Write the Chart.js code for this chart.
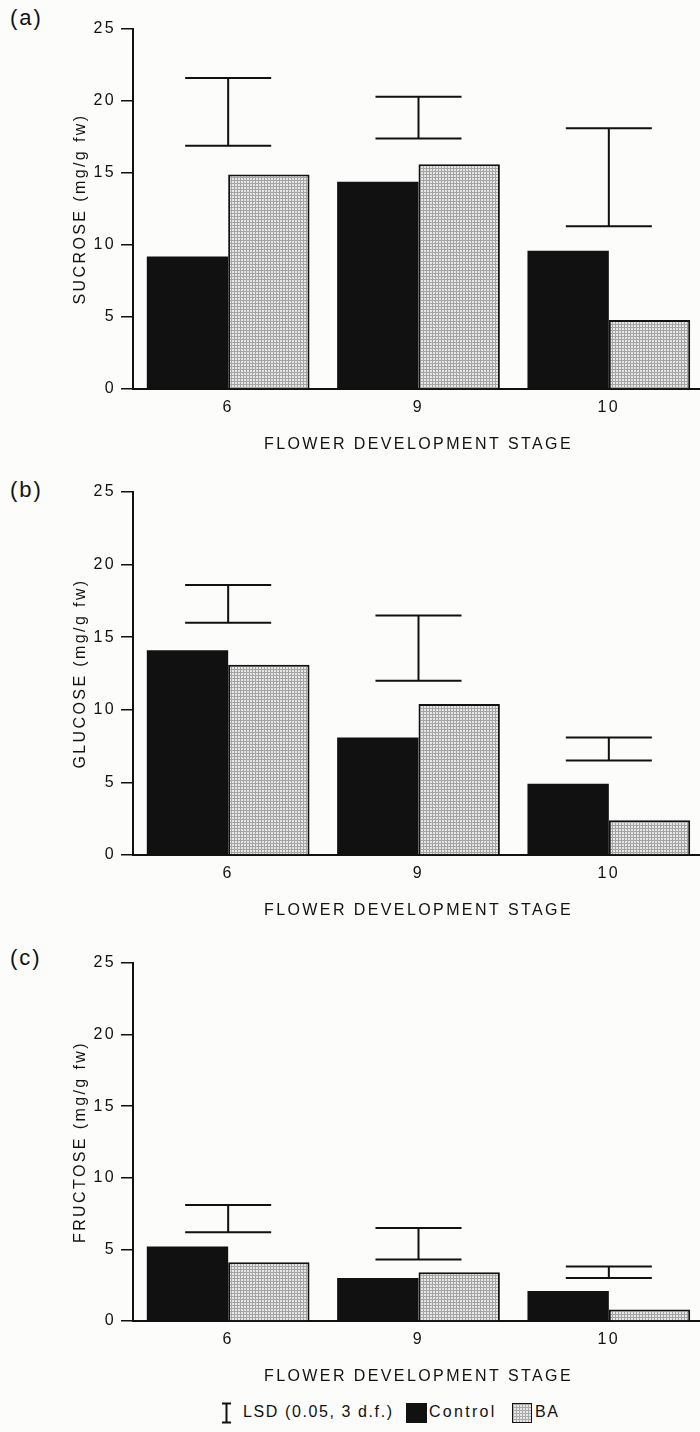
<!DOCTYPE html>
<html>
<head>
<meta charset="utf-8">
<script src="https://cdn.jsdelivr.net/npm/chart.js@4.4.1/dist/chart.umd.min.js"></script>
<style>
  html, body { margin: 0; padding: 0; background: #fcfcfb; width: 700px; height: 1432px; overflow: hidden; position: relative; }
  canvas { position: absolute; left: 0; }
  .tag { position: absolute; left: 10px; font: 22px "Liberation Sans", Arial, sans-serif; line-height: 1; color: #111; letter-spacing: 2px; }
  .lg { position: absolute; top: 1403px; height: 20px; line-height: 20px; font: 16px "Liberation Sans", Arial, sans-serif; color: #111; letter-spacing: 1.6px; white-space: nowrap; }
  .sw { position: absolute; top: 1403px; box-sizing: border-box; }
</style>
</head>
<body>
<div class="tag" style="top:7px">(a)</div>
<div class="tag" style="top:479px">(b)</div>
<div class="tag" style="top:947px">(c)</div>

<canvas id="chartA" width="704" height="465" style="top:0px"></canvas>
<canvas id="chartB" width="704" height="465" style="top:465px"></canvas>
<canvas id="chartC" width="704" height="470" style="top:930px"></canvas>

<!-- leyenda comun abajo -->
<svg style="position:absolute;left:221px;top:1402px" width="11" height="22">
  <path d="M1 1.5H10M1 20.5H10M5.5 1.5V20.5" stroke="#111" stroke-width="2" fill="none"/>
</svg>
<div class="lg" style="left:243px">LSD (0.05, 3 d.f.)</div>
<div class="sw" style="left:406px;width:21px;height:20px;background:#111"></div>
<div class="lg" style="left:429px;letter-spacing:2.3px">Control</div>
<div class="sw" style="left:512px;width:20px;height:20px;border:1.5px solid #111;background-color:#e6e6e6;background-image:linear-gradient(90deg,#aaa 1px,transparent 1px),linear-gradient(#aaa 1px,transparent 1px);background-size:3px 3px"></div>
<div class="lg" style="left:535px">BA</div>

<script>
// estadios de desarrollo de la flor (eje X)
const stages = ["6", "9", "10"];
const yTickStep = 5;
const yMax = 25;

// (a) sacarosa
const sucroseControl = [9.2, 14.4, 9.6];
const sucroseBA = [14.9, 15.6, 4.8];
const sucroseLsdLow = [16.9, 17.4, 11.3];
const sucroseLsdHigh = [21.6, 20.3, 18.1];

// (b) glucosa
const glucoseControl = [14.1, 8.1, 4.9];
const glucoseBA = [13.1, 10.4, 2.4];
const glucoseLsdLow = [16.0, 12.0, 6.5];
const glucoseLsdHigh = [18.6, 16.5, 8.1];

// (c) fructosa
const fructoseControl = [5.2, 3.0, 2.1];
const fructoseBA = [4.1, 3.4, 0.8];
const fructoseLsdLow = [6.2, 4.3, 3.0];
const fructoseLsdHigh = [8.1, 6.5, 3.8];

const ink = "#111111";
const fontFam = '"Liberation Sans", Arial, sans-serif';

// trama gris para las barras BA
function trama() {
  const c = document.createElement("canvas");
  c.width = 3; c.height = 3;
  const g = c.getContext("2d");
  g.fillStyle = "#e6e6e6";
  g.fillRect(0, 0, 3, 3);
  g.fillStyle = "#a4a4a4";
  g.fillRect(0, 0, 1, 3);
  g.fillRect(0, 0, 3, 1);
  return g.createPattern(c, "repeat");
}
const patronBA = trama();

// espaciado entre letras como en la figura original
const espaciado = {
  id: "espaciado",
  beforeInit(chart) { chart.ctx.letterSpacing = "2.4px"; },
  beforeDraw(chart) { chart.ctx.letterSpacing = "2.4px"; }
};

// barras LSD dibujadas con las escalas del grafico
const lsd = {
  id: "lsd",
  afterDatasetsDraw(chart, args, opts) {
    const { ctx, scales: { x, y } } = chart;
    const paso = x.getPixelForValue(1) - x.getPixelForValue(0);
    const medio = paso * 0.226;
    ctx.save();
    ctx.strokeStyle = ink;
    ctx.lineWidth = 2;
    opts.low.forEach((lo, i) => {
      const cx = x.getPixelForValue(i);
      const yl = y.getPixelForValue(lo);
      const yh = y.getPixelForValue(opts.high[i]);
      ctx.beginPath();
      ctx.moveTo(cx - medio, yh); ctx.lineTo(cx + medio, yh);
      ctx.moveTo(cx - medio, yl); ctx.lineTo(cx + medio, yl);
      ctx.moveTo(cx, yh); ctx.lineTo(cx, yl);
      ctx.stroke();
    });
    ctx.restore();
  }
};

function pintarPanel(id, titulo, control, ba, low, high, padTop, padBottom) {
  const ctx = document.getElementById(id).getContext("2d");
  new Chart(ctx, {
    type: "bar",
    data: {
      labels: stages,
      datasets: [
        { label: "Control", data: control, backgroundColor: "#111111", borderWidth: 0 },
        { label: "BA", data: ba, backgroundColor: patronBA, borderColor: ink, borderWidth: 2 }
      ]
    },
    options: {
      responsive: false,
      animation: false,
      events: [],
      layout: { padding: { top: padTop, bottom: padBottom, left: 0, right: 0 } },
      datasets: { bar: { categoryPercentage: 0.855, barPercentage: 1.0 } },
      plugins: {
        legend: { display: false },
        tooltip: { enabled: false },
        lsd: { low: low, high: high }
      },
      scales: {
        x: {
          grid: { display: true, drawOnChartArea: false, drawTicks: false },
          border: { display: true, color: ink, width: 2 },
          ticks: { color: ink, padding: 9, font: { family: fontFam, size: 16 } },
          title: {
            display: true,
            text: "FLOWER DEVELOPMENT STAGE",
            color: ink,
            padding: 0,
            font: { family: fontFam, size: 16 }
          },
          afterFit(s) { s.height = 65; }
        },
        y: {
          min: 0,
          max: yMax,
          ticks: { stepSize: yTickStep, color: ink, padding: 5, font: { family: fontFam, size: 16 } },
          grid: { drawOnChartArea: false, drawTicks: true, tickLength: 12, color: ink, lineWidth: 1.5 },
          border: { display: true, color: ink, width: 2 },
          title: {
            display: true,
            text: titulo,
            color: ink,
            padding: { top: 71, bottom: 0 },
            font: { family: fontFam, size: 16 }
          },
          afterFit(s) { s.width = 133; }
        }
      }
    },
    plugins: [espaciado, lsd]
  });
}

pintarPanel("chartA", "SUCROSE (mg/g fw)", sucroseControl, sucroseBA, sucroseLsdLow, sucroseLsdHigh, 29, 11);
pintarPanel("chartB", "GLUCOSE (mg/g fw)", glucoseControl, glucoseBA, glucoseLsdLow, glucoseLsdHigh, 27, 10);
pintarPanel("chartC", "FRUCTOSE (mg/g fw)", fructoseControl, fructoseBA, fructoseLsdLow, fructoseLsdHigh, 33, 14);
</script>
</body>
</html>
